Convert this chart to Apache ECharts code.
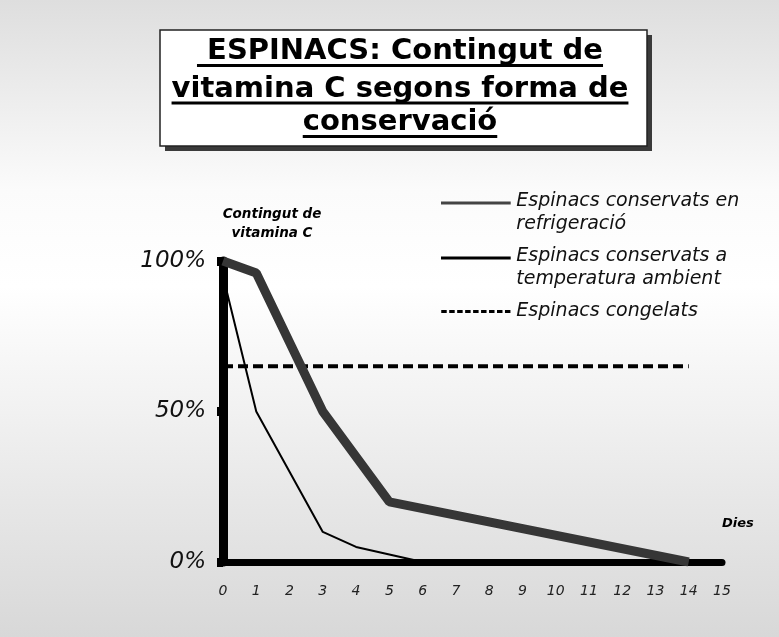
<!DOCTYPE html>
<html>
<head>
<meta charset="utf-8">
<script src="https://cdn.jsdelivr.net/npm/echarts@6/dist/echarts.min.js"></script>
<style>
html, body { margin: 0; padding: 0; }
#chart { width: 779px; height: 637px; }
</style>
</head>
<body>
<div id="chart"></div>
<script>
// dies (eix X)
var dies = ['0', '1', '2', '3', '4', '5', '6', '7', '8', '9', '10', '11', '12', '13', '14', '15'];
// contingut de vitamina C (%) per dia
var refrigeracio = [100, 96, null, 50, null, 20, null, null, null, null, null, null, null, null, 0, null];
var ambient = [95, 50, 30, 10, 5, 2.5, 0, null, null, null, null, null, null, null, null, null];
var congelats = [65, 65, 65, 65, 65, 65, 65, 65, 65, 65, 65, 65, 65, 65, 65, null];

var noms = [
    'Espinacs conservats en\nrefrigeració',
    'Espinacs conservats a\ntemperatura ambient',
    'Espinacs congelats'
];
var titol = [' ESPINACS: Contingut de', 'vitamina C segons forma de', 'conservació'];

var myChart = echarts.init(document.getElementById('chart'));

// titol amb caixa, ombra i subratllat
var titleFont = 'bold 29px "DejaVu Sans", Verdana, sans-serif';
var ctx = document.createElement('canvas').getContext('2d');
ctx.font = titleFont;
var cx = 400;
var baselines = [60.5, 98, 131.5];
var graphic = [
    { type: 'rect', shape: { x: 165, y: 35, width: 487, height: 116 }, style: { fill: '#3a3a3a' } },
    { type: 'rect', shape: { x: 160, y: 30, width: 487, height: 116 }, style: { fill: '#ffffff', stroke: '#222', lineWidth: 1.5 } }
];
for (var i = 0; i < titol.length; i++) {
    var w = ctx.measureText(titol[i]).width;
    graphic.push({
        type: 'text', x: cx, y: baselines[i] - 9,
        style: { text: titol[i], font: titleFont, fill: '#000', align: 'center', verticalAlign: 'middle' }
    });
    graphic.push({
        type: 'rect', shape: { x: cx - w / 2, y: baselines[i] + 3.5, width: w, height: 3 },
        style: { fill: '#000' }
    });
}

// icones de la llegenda (linia a dalt del bloc de text)
var iconTop = 'path://M0,0H70V3H0Z M0,23H0.1V23.1H0Z';
var dash = 'path://M0,0H0.1V0.1H0Z M0,23H0.1V23.1H0Z';
for (var d = 0; d < 9; d++) {
    var x0 = d * 8;
    dash += ' M' + x0 + ',10H' + (x0 + 5.5) + 'V13H' + x0 + 'Z';
}

var option = {
    animation: false,
    backgroundColor: {
        type: 'linear', x: 0, y: 0, x2: 0, y2: 1,
        colorStops: [
            { offset: 0, color: '#dedede' },
            { offset: 0.3, color: '#fbfbfb' },
            { offset: 0.45, color: '#ffffff' },
            { offset: 1, color: '#d8d8d8' }
        ]
    },
    graphic: graphic,
    legend: {
        orient: 'vertical',
        left: 441,
        top: 190,
        padding: 0,
        itemWidth: 71,
        itemHeight: 23,
        itemGap: 9,
        textStyle: { fontFamily: 'DejaVu Sans', fontStyle: 'italic', fontSize: 19, lineHeight: 23, color: '#111' },
        data: [
            { name: noms[0], icon: iconTop, itemStyle: { color: '#444' } },
            { name: noms[1], icon: iconTop, itemStyle: { color: '#000' } },
            { name: noms[2], icon: dash, itemStyle: { color: '#000' } }
        ]
    },
    grid: { left: 223, right: 57, top: 261, bottom: 75, containLabel: false },
    xAxis: {
        type: 'category',
        data: dies,
        boundaryGap: false,
        name: 'Dies',
        nameLocation: 'end',
        nameGap: 0,
        nameTextStyle: {
            fontFamily: 'DejaVu Sans', fontStyle: 'italic', fontWeight: 'bold', fontSize: 13, color: '#000',
            align: 'left', verticalAlign: 'bottom', padding: [0, 0, 32, 0]
        },
        axisLine: { show: true, lineStyle: { color: '#000', width: 7 } },
        axisTick: { show: true, interval: 0, length: 3, lineStyle: { color: '#000', width: 4 } },
        axisLabel: { interval: 0, margin: 22, fontFamily: 'DejaVu Sans', fontStyle: 'italic', fontSize: 14, color: '#222' },
        splitLine: { show: false }
    },
    yAxis: {
        type: 'value',
        min: 0,
        max: 100,
        interval: 50,
        name: 'Contingut de\nvitamina C',
        nameLocation: 'end',
        nameGap: 18,
        nameTextStyle: {
            fontFamily: 'DejaVu Sans', fontStyle: 'italic', fontWeight: 'bold', fontSize: 13.5, lineHeight: 19, color: '#000',
            align: 'center', padding: [0, 0, 0, 98]
        },
        axisLine: { show: true, lineStyle: { color: '#000', width: 9 } },
        axisTick: { show: true, length: 6, lineStyle: { color: '#000', width: 9 } },
        axisLabel: { formatter: '{value}%', margin: 17, fontFamily: 'DejaVu Sans', fontStyle: 'italic', fontSize: 23, color: '#111' },
        splitLine: { show: false }
    },
    series: [
        {
            name: noms[2], type: 'line', data: congelats, connectNulls: true, symbol: 'none', z: 2,
            lineStyle: { color: '#000', width: 4, type: [10, 5] }, itemStyle: { color: '#000' }
        },
        {
            name: noms[1], type: 'line', data: ambient, connectNulls: true, symbol: 'none', z: 3,
            lineStyle: { color: '#000', width: 2 }, itemStyle: { color: '#000' }
        },
        {
            name: noms[0], type: 'line', data: refrigeracio, connectNulls: true, symbol: 'none', z: 4,
            lineStyle: { color: '#363636', width: 9 }, itemStyle: { color: '#363636' }
        }
    ]
};

myChart.setOption(option);
</script>
</body>
</html>
